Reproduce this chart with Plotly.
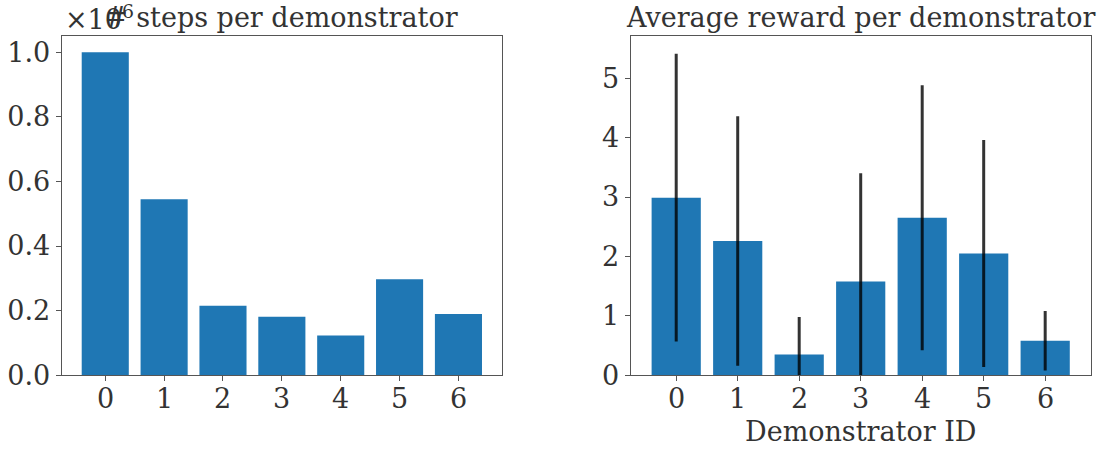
import plotly.graph_objects as go

demonstrators = [0, 1, 2, 3, 4, 5, 6]
steps_scaled = [1.0, 0.545, 0.215, 0.181, 0.123, 0.297, 0.190]  # x 1e6
reward_mean = [2.99, 2.26, 0.35, 1.58, 2.65, 2.05, 0.58]
reward_std = [2.42, 2.10, 0.63, 1.82, 2.23, 1.91, 0.50]
x_tick_labels = ["0", "1", "2", "3", "4", "5", "6"]

left_title = "# steps per demonstrator"
right_title = "Average reward per demonstrator"
x_label = "Demonstrator ID"
offset_text = "×10<sup>6</sup>"

FONT = "DejaVu Serif"
FS = 27
TXT = "#333333"
SPINE = "#555555"
BLUE = "#1f77b4"

W, H = 1117, 449
L1, R1 = 61.7, 502.0
L2, R2 = 630.7, 1090.7
TOP, BOT = 36.0, 375.3

fig = go.Figure()
fig.add_trace(go.Bar(x=demonstrators, y=steps_scaled, width=0.8,
                     marker=dict(color=BLUE, line=dict(width=0)),
                     xaxis="x", yaxis="y", showlegend=False))
fig.add_trace(go.Bar(x=demonstrators, y=reward_mean, width=0.8,
                     marker=dict(color=BLUE, line=dict(width=0)),
                     error_y=dict(type="data", array=reward_std, visible=True,
                                  thickness=3, width=0, color="rgba(0,0,0,0.8)"),
                     xaxis="x2", yaxis="y2", showlegend=False))

ydom = [(H - BOT) / H, (H - TOP) / H]
axis_common = dict(showline=True, mirror=True, linecolor=SPINE, linewidth=1.2,
                   ticks="outside", ticklen=5, tickwidth=1.2, tickcolor=SPINE,
                   showgrid=False, zeroline=False, automargin=False,
                   tickfont=dict(family=FONT, size=FS, color=TXT))

def px_y(top_px):
    return (H - top_px) / H

tfont = dict(family=FONT, size=FS, color=TXT)

annotations = [
    dict(text=left_title, x=(L1 + R1) / 2 / W, y=px_y(18),
         xref="paper", yref="paper", xanchor="center", yanchor="middle",
         showarrow=False, font=tfont),
    dict(text=right_title, x=(L2 + R2) / 2 / W, y=px_y(18),
         xref="paper", yref="paper", xanchor="center", yanchor="middle",
         showarrow=False, font=tfont),
    dict(text=offset_text, x=(L1 + 1) / W, y=px_y(18),
         xref="paper", yref="paper", xanchor="left", yanchor="middle",
         showarrow=False, font=tfont),
    dict(text=x_label, x=(L2 + R2) / 2 / W, y=px_y(431),
         xref="paper", yref="paper", xanchor="center", yanchor="middle",
         showarrow=False, font=tfont),
]
for xr in ("x", "x2"):
    for d, lab in zip(demonstrators, x_tick_labels):
        annotations.append(dict(text=lab, x=d, y=px_y(398), xref=xr, yref="paper",
                                xanchor="center", yanchor="middle",
                                showarrow=False, font=tfont))

fig.update_layout(
    width=W, height=H, margin=dict(l=0, r=0, t=0, b=0, pad=0),
    paper_bgcolor="white", plot_bgcolor="white",
    font=tfont,
    bargap=0.2,
    xaxis=dict(domain=[L1 / W, R1 / W], range=[-0.74, 6.74], tickmode="array",
               tickvals=demonstrators, showticklabels=False,
               anchor="y", **axis_common),
    yaxis=dict(domain=ydom, range=[0, 1.05], tickmode="array",
               tickvals=[0, 0.2, 0.4, 0.6, 0.8, 1.0],
               ticktext=["0.0", "0.2", "0.4", "0.6", "0.8", "1.0"],
               anchor="x", **axis_common),
    xaxis2=dict(domain=[L2 / W, R2 / W], range=[-0.74, 6.74], tickmode="array",
                tickvals=demonstrators, showticklabels=False,
                anchor="y2", **axis_common),
    yaxis2=dict(domain=ydom, range=[0, 5.71], tickmode="array",
                tickvals=[0, 1, 2, 3, 4, 5], anchor="x2", **axis_common),
    annotations=annotations,
)

fig.write_html("out.html")
